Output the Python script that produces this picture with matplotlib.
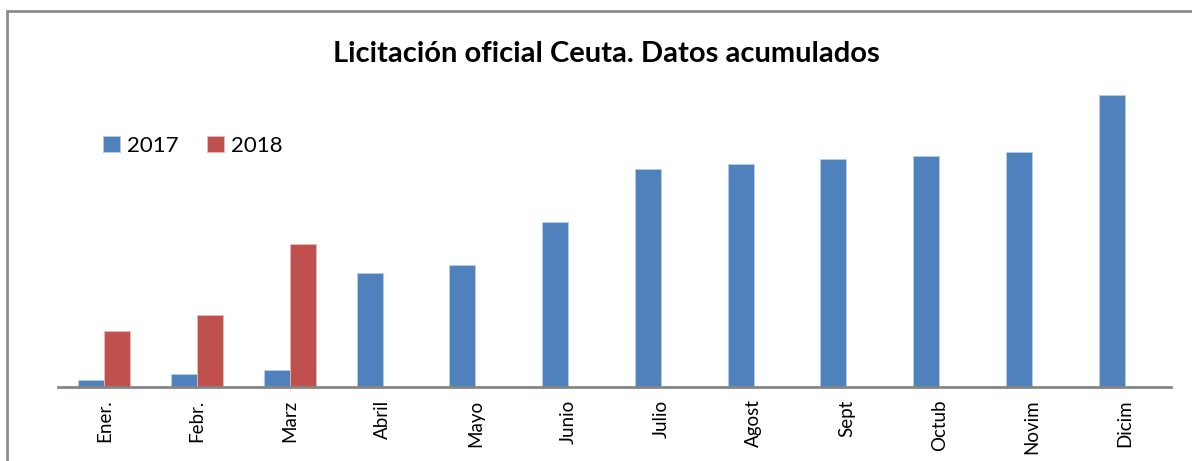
import numpy as np
import matplotlib.pyplot as plt
from matplotlib.patches import Rectangle

# Daten (ohne Achsenskala)
meses = ["Ener.", "Febr.", "Marz", "Abril", "Mayo", "Junio", "Julio",
         "Agost", "Sept", "Octub", "Novim", "Dicim"]
valores_2017 = [7, 13, 17, 114, 122, 165, 218, 223, 228, 231, 235, 292]
valores_2018 = [56, 72, 143, 0, 0, 0, 0, 0, 0, 0, 0, 0]

azul = "#4F81BD"
rojo = "#C0504D"

plt.rcParams['font.family'] = ['Lato', 'DejaVu Sans']

fig = plt.figure(figsize=(11.92, 4.61), dpi=100)
ax = fig.add_axes([58 / 1192, 74 / 461, 1113 / 1192, 312 / 461])

x = np.arange(len(meses))
ancho = 0.28
ax.bar(x - ancho / 2, valores_2017, ancho, color=azul, edgecolor="#B9CDE5", linewidth=0.6, label="2017")
ax.bar(x + ancho / 2, valores_2018, ancho, color=rojo, edgecolor="#E6B9B8", linewidth=0.6, label="2018")

ax.set_xlim(-0.5, len(meses) - 0.5)
ax.set_ylim(0, 312)
ax.set_xticks(x)
ax.set_xticklabels(meses, rotation=90, fontsize=13.5)
ax.tick_params(axis="x", length=0, pad=9)
ax.set_yticks([])
for lado in ["top", "right", "left"]:
    ax.spines[lado].set_visible(False)
ax.spines["bottom"].set_color("#868686")
ax.spines["bottom"].set_linewidth(2)

fig.text(606 / 1192, 1 - 54 / 461, "Licitación oficial Ceuta. Datos acumulados",
         ha="center", va="center", fontsize=21, fontweight="bold")

ax.legend(loc="upper left", bbox_to_anchor=(103 / 1192, 1 - 136 / 461), bbox_transform=fig.transFigure,
          ncol=2, frameon=False, fontsize=16, handlelength=0.75, handleheight=0.75,
          handletextpad=0.35, columnspacing=1.25, borderaxespad=0, borderpad=0)

# Rahmen des Diagramms
fig.patches.append(Rectangle((7 / 1192, -0.1), 1.2, 1 - 11 / 461 + 0.1, transform=fig.transFigure,
                             fill=False, edgecolor="#8C8C8C", linewidth=2))

fig.savefig("out.png", dpi=100)
